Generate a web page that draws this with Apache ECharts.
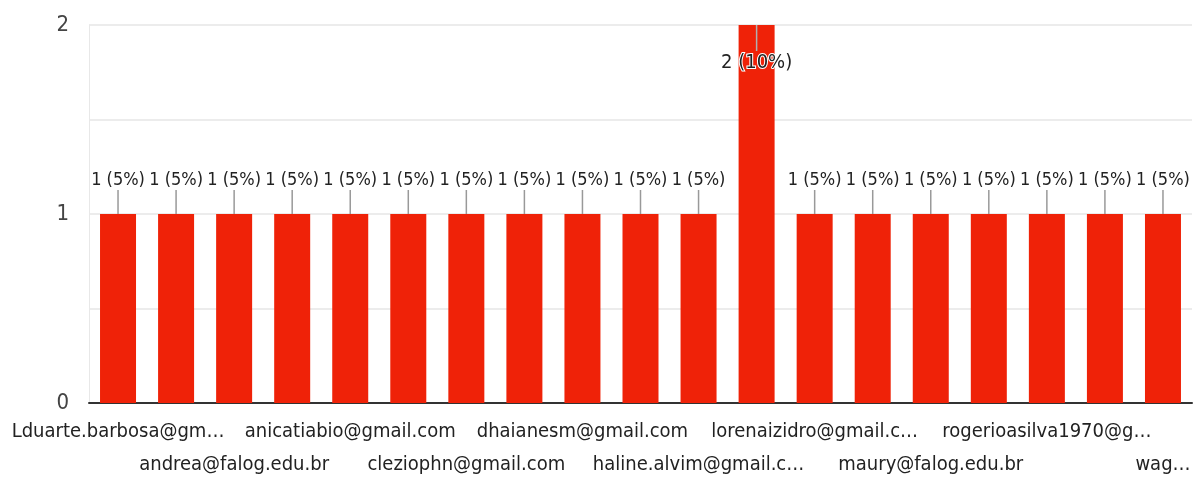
<!DOCTYPE html>
<html><head><meta charset="utf-8">
<script src="https://cdn.jsdelivr.net/npm/echarts@6/dist/echarts.min.js"></script>
<style>html,body{margin:0;padding:0;background:#fff}#c{width:1196px;height:477px}</style>
</head><body><div id="c"></div>
<script>
// Category labels (only every other label is visible in the reference; hidden ones left blank)
const categories = [
  'Lduarte.barbosa@gm…', '', 'andrea@falog.edu.br', '', 'anicatiabio@gmail.com', '',
  'cleziophn@gmail.com', '', 'dhaianesm@gmail.com', '', 'haline.alvim@gmail.c…', '',
  'lorenaizidro@gmail.c…', '', 'maury@falog.edu.br', '', 'rogerioasilva1970@g…', '', 'wag…'
];
const counts = [1,1,1,1,1,1,1,1,1,1,1,2,1,1,1,1,1,1,1];
const percents = [5,5,5,5,5,5,5,5,5,5,5,10,5,5,5,5,5,5,5];
const yTicks = [0, 1, 2];

const FONT = '"DejaVu Sans Condensed", "Liberation Sans", Arial, sans-serif';
const chart = echarts.init(document.getElementById('c'));
const maxV = Math.max(...counts);

chart.setOption({
  animation: false,
  grid: {left: 89, right: 4, top: 25, bottom: 74, containLabel: false, outerBoundsMode: 'none'},
  xAxis: {
    type: 'category', data: categories,
    axisLine: {lineStyle: {color: '#333', width: 2}},
    axisTick: {show: false},
    axisLabel: {
      interval: 0, margin: 12, color: '#222',
      fontFamily: FONT, fontSize: 20, lineHeight: 33,
      formatter: function (v, i) { return (i % 4 === 2) ? '\n' + v : v; }
    }
  },
  yAxis: {
    type: 'value', min: 0, max: 2, interval: 0.5,
    axisLine: {show: true, lineStyle: {color: '#e8e8e8'}},
    axisTick: {show: false},
    splitLine: {lineStyle: {color: '#ececec', width: 2}},
    axisLabel: {
      margin: 20, color: '#444', fontFamily: FONT, fontSize: 22,
      formatter: function (v) { return yTicks.indexOf(v) >= 0 ? String(v) : ''; }
    }
  },
  series: [
    {
      type: 'bar', barWidth: 36, z: 2,
      itemStyle: {color: '#ef2208'},
      data: counts.map(function (v, i) {
        const isMax = v === maxV;
        return {
          value: v,
          label: {
            show: true,
            position: isMax ? 'insideTop' : 'top',
            distance: isMax ? 28 : 25,
            formatter: v + ' (' + percents[i] + '%)',
            color: '#222', fontFamily: FONT, fontSize: isMax ? 20 : 18,
            textBorderColor: isMax ? '#fff' : 'transparent',
            textBorderWidth: isMax ? 2 : 0
          }
        };
      })
    },
    {
      type: 'custom', z: 3, silent: true,
      data: counts.map(function (v, i) { return [i, v]; }),
      renderItem: function (params, api) {
        const p = api.coord([api.value(0), api.value(1)]);
        const isMax = api.value(1) === maxV;
        const y2 = isMax ? p[1] + 26 : p[1] - 24;
        return {
          type: 'line',
          shape: {x1: p[0], y1: p[1], x2: p[0], y2: y2},
          style: {stroke: isMax ? '#b0b0b0' : '#999', lineWidth: 1.5}
        };
      }
    }
  ]
});
</script></body></html>
